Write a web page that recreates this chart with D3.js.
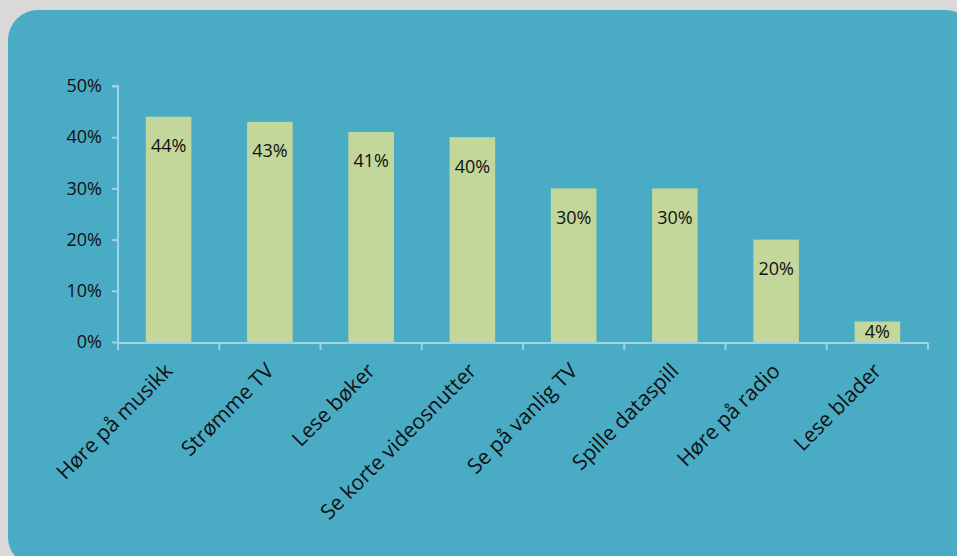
<!DOCTYPE html>
<html><head><meta charset="utf-8">
<script src="https://cdn.jsdelivr.net/npm/d3@7"></script>
<style>body{margin:0;background:#d9d9d9;overflow:hidden}</style>
</head><body>
<svg id="c" width="957" height="556"></svg>
<script>
const categories = ["Høre på musikk","Strømme TV","Lese bøker","Se korte videosnutter","Se på vanlig TV","Spille dataspill","Høre på radio","Lese blader"];
const values = [44,43,41,40,30,30,20,4];
const yTicks = [0,10,20,30,40,50];

const svg = d3.select("#c");
const font = "'Open Sans', 'Noto Sans', sans-serif";
svg.append("rect").attr("x",0).attr("y",0).attr("width",957).attr("height",556).attr("fill","#d9d9d9");
svg.append("rect").attr("x",8).attr("y",10).attr("width",967).attr("height",557).attr("rx",30).attr("fill","#4aabc5");

const x = d3.scaleBand().domain(categories).range([118,928]).paddingInner(0.55).paddingOuter(0.275);
const y = d3.scaleLinear().domain([0,50]).range([342,86]);
const axisCol = "#9fd2e2";

// y axis
const ya = svg.append("g").attr("transform","translate(118,0)")
  .call(d3.axisLeft(y).tickValues(yTicks).tickFormat(d=>d+"%").tickSize(6).tickPadding(10));
ya.select(".domain").attr("stroke",axisCol).attr("stroke-width",2).attr("d","M-6,86H0V342");
ya.selectAll(".tick line").attr("stroke",axisCol).attr("stroke-width",2);
ya.selectAll(".tick text").attr("font-family",font).attr("font-size",18).attr("fill","#111");

// bars
svg.append("g").selectAll("rect").data(values).join("rect")
  .attr("x",(d,i)=>x(categories[i])).attr("width",x.bandwidth())
  .attr("y",d=>y(d)).attr("height",d=>y(0)-y(d))
  .attr("fill","#c4d79b");

// x axis
const step = x.step();
const xa = svg.append("g");
xa.append("line").attr("x1",118).attr("x2",928).attr("y1",343).attr("y2",343).attr("stroke",axisCol).attr("stroke-width",2);
const tickXs = d3.range(categories.length+1).map(i=>118+i*step);
xa.selectAll("line.t").data(tickXs).join("line").attr("class","t")
  .attr("x1",d=>d).attr("x2",d=>d).attr("y1",343).attr("y2",350).attr("stroke",axisCol).attr("stroke-width",2);

// value labels
svg.append("g").selectAll("text").data(values).join("text")
  .attr("x",(d,i)=>x(categories[i])+x.bandwidth()/2)
  .attr("y",d=>Math.min(y(d)+29,(y(d)+y(0))/2))
  .attr("dy","0.35em").attr("text-anchor","middle")
  .attr("font-family",font).attr("font-size",18).attr("fill","#111")
  .text(d=>d+"%");

// category labels
svg.append("g").selectAll("text").data(categories).join("text")
  .attr("transform",d=>`translate(${x(d)+x.bandwidth()/2},${367}) rotate(-45)`)
  .attr("text-anchor","end").attr("dy","0.35em")
  .attr("font-family",font).attr("font-size",21).attr("fill","#111")
  .text(d=>d);
</script>
</body></html>
